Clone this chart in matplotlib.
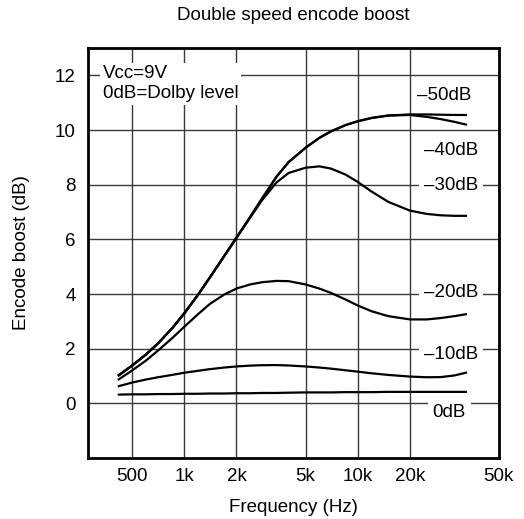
import matplotlib
matplotlib.use("Agg")
from matplotlib import pyplot as plt

plt.rcParams['font.family'] = ['Liberation Sans', 'DejaVu Sans']

# frequency points (Hz)
freqs = [420, 500, 600, 700, 850, 1000, 1200, 1400, 1700, 2000, 2400, 2800, 3400,
         4000, 5000, 6000, 7000, 8500, 10000, 12000, 15000, 20000, 25000, 30000,
         36000, 42000]

# encode boost (dB) for each input level
boost_m50 = [1.03, 1.38, 1.78, 2.17, 2.74, 3.29, 3.97, 4.59, 5.39, 6.06, 6.82, 7.48, 8.29,
             8.83, 9.35, 9.71, 9.95, 10.18, 10.32, 10.44, 10.53, 10.57, 10.57, 10.56,
             10.55, 10.55]
boost_m40 = [1.03, 1.38, 1.78, 2.17, 2.74, 3.29, 3.97, 4.59, 5.39, 6.06, 6.82, 7.48, 8.29,
             8.83, 9.35, 9.71, 9.95, 10.18, 10.32, 10.44, 10.53, 10.55, 10.48, 10.40,
             10.30, 10.20]
boost_m30 = [1.03, 1.38, 1.78, 2.17, 2.74, 3.29, 3.97, 4.59, 5.39, 6.06, 6.80, 7.42, 8.08,
             8.43, 8.62, 8.67, 8.59, 8.37, 8.10, 7.75, 7.37, 7.05, 6.93, 6.88,
             6.86, 6.86]
boost_m20 = [0.88, 1.20, 1.56, 1.91, 2.38, 2.80, 3.26, 3.63, 3.98, 4.20, 4.35, 4.43, 4.48,
             4.47, 4.35, 4.20, 4.04, 3.80, 3.58, 3.37, 3.19, 3.07, 3.07, 3.12,
             3.19, 3.26]
boost_m10 = [0.63, 0.76, 0.87, 0.95, 1.04, 1.12, 1.19, 1.25, 1.31, 1.35, 1.38, 1.395, 1.40,
             1.385, 1.35, 1.31, 1.27, 1.21, 1.16, 1.10, 1.04, 0.98, 0.955, 0.96,
             1.02, 1.12]
boost_0 = [0.32, 0.33, 0.33, 0.34, 0.34, 0.35, 0.35, 0.36, 0.36, 0.37, 0.37, 0.38, 0.38,
           0.39, 0.40, 0.40, 0.40, 0.41, 0.41, 0.41, 0.42, 0.42, 0.42, 0.42,
           0.42, 0.42]

curves = [boost_m50, boost_m40, boost_m30, boost_m20, boost_m10, boost_0]

level_labels = ['\u201350dB', '\u201340dB', '\u201330dB', '\u201320dB', '\u201310dB', '0dB']
label_x = [31400, 34600, 34600, 34600, 34600, 33600]
label_y = [11.28, 9.26, 7.97, 4.04, 1.79, -0.32]

tick_freqs = [500, 1000, 2000, 5000, 10000, 20000, 65000]
tick_names = ['500', '1k', '2k', '5k', '10k', '20k', '50k']
y_ticks = [0, 2, 4, 6, 8, 10, 12]

fig = plt.figure(figsize=(5.24, 5.19), dpi=100)
ax = fig.add_axes([0.168, 0.1175, 0.784, 0.79])

for c in curves:
    ax.plot(freqs, c, color='black', lw=1.6, solid_joinstyle='round', zorder=3)

ax.set_xscale('log')
ax.set_xlim(279, 65000)
ax.set_ylim(-2, 13)
ax.set_xticks(tick_freqs)
ax.set_xticklabels(tick_names)
ax.minorticks_off()
ax.set_yticks(y_ticks)
ax.grid(True, color='#3a3a3a', lw=1.0)
ax.tick_params(length=0, labelsize=13.5)
ax.tick_params(axis='y', pad=9)
ax.tick_params(axis='x', pad=7)
for s in ax.spines.values():
    s.set_linewidth(2.0)

for name, x, y in zip(level_labels, label_x, label_y):
    ax.text(x, y, name, ha='center', va='center', fontsize=13.5, zorder=4,
            bbox=dict(facecolor='white', edgecolor='none', pad=3.5))

ax.text(0.036, 0.913, 'Vcc=9V\n0dB=Dolby level', transform=ax.transAxes,
        ha='left', va='center', fontsize=13.5, linespacing=1.2, zorder=4,
        bbox=dict(facecolor='white', edgecolor='none', pad=2))

ax.set_title('Double speed encode boost', fontsize=13.5, pad=20)
ax.set_xlabel('Frequency (Hz)', fontsize=13.5, labelpad=10)
ax.set_ylabel('Encode boost (dB)', fontsize=13.5, labelpad=18)

fig.savefig('out.png', dpi=100)
